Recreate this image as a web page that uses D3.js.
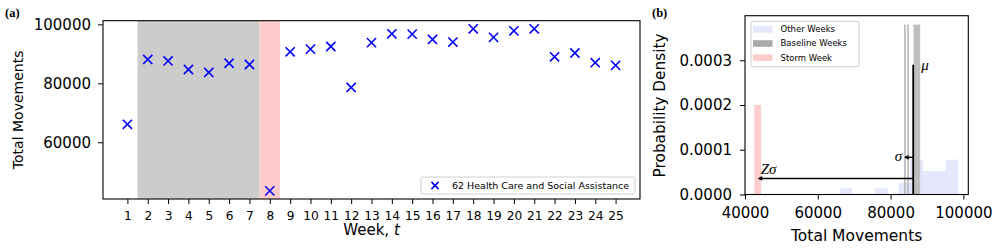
<!DOCTYPE html>
<html>
<head>
<meta charset="utf-8">
<script src="https://cdn.jsdelivr.net/npm/d3@7"></script>
<style>
  html, body { margin: 0; padding: 0; background: #fff; }
  svg { display: block; }
  text { font-family: "DejaVu Sans", sans-serif; fill: #000; }
</style>
</head>
<body>
<svg id="chart" width="996" height="251"></svg>
<script>
// ---------------- data ----------------
const weeks = [1,2,3,4,5,6,7,8,9,10,11,12,13,14,15,16,17,18,19,20,21,22,23,24,25];
const movements = [66100, 88100, 87600, 84700, 83700, 86800, 86400, 43500, 90700, 91600,
                   92500, 78600, 93800, 96800, 96700, 94900, 94000, 98500, 95600, 97800,
                   98500, 89000, 90300, 87000, 86100];
const baselineWeeks = [2,3,4,5,6,7];
const stormWeek = [8];
const seriesName = "62 Health Care and Social Assistance";

const aYTicks = [60000, 80000, 100000];
const bXTicks = [40000, 60000, 80000, 100000];
const bYTicks = [0, 0.0001, 0.0002, 0.0003];
const histBins = [10];
const stormBarHeight = [0.0002];
const stormBarWidth = [1840];
const sigmaValue = [2500];
const muLineTop = [0.00029];
const sigmaArrowY = [0.000083];
const zArrowY = [0.000036];
const legendB = ["Other Weeks", "Baseline Weeks", "Storm Week"];
const legendBColors = ["#e5e7fd", "#aaaaaa", "#ffcccc"];

// ---------------- setup ----------------
const svg = d3.select("#chart");
const A = {l: 103, r: 640, t: 20.7, b: 199};
const B = {l: 745, r: 968.3, t: 16.4, b: 194.5};

// ---------------- panel (a) ----------------
const xA = d3.scaleLinear().domain([-0.2, 26.2]).range([A.l, A.r]);
const yA = d3.scaleLinear().domain([40750, 101250]).range([A.b, A.t]);
const gA = svg.append("g");

gA.append("rect")
  .attr("x", xA(d3.min(baselineWeeks) - 0.5)).attr("y", A.t)
  .attr("width", xA(d3.max(baselineWeeks) + 0.5) - xA(d3.min(baselineWeeks) - 0.5))
  .attr("height", A.b - A.t).attr("fill", "#cccccc");
gA.append("rect")
  .attr("x", xA(stormWeek[0] - 0.5)).attr("y", A.t)
  .attr("width", xA(stormWeek[0] + 0.5) - xA(stormWeek[0] - 0.5))
  .attr("height", A.b - A.t).attr("fill", "#ffcccc");

const xMark = (sel, s) => sel.append("path")
  .attr("d", `M${-s},${-s}L${s},${s}M${-s},${s}L${s},${-s}`)
  .attr("stroke", "#0000ff").attr("stroke-width", 1.6).attr("fill", "none");

weeks.forEach((w, i) => {
  const g = gA.append("g").attr("transform", `translate(${xA(w)},${yA(movements[i])})`);
  xMark(g, 4.6);
});

// axes
const axAx = gA.append("g").attr("transform", `translate(0,${A.b})`)
  .call(d3.axisBottom(xA).tickValues(weeks).tickSize(5).tickPadding(7).tickFormat(d3.format("d")));
axAx.select(".domain").remove();
axAx.selectAll("text").style("font-size", "12.2px");
axAx.selectAll("line").attr("stroke-width", 1);

const axAy = gA.append("g").attr("transform", `translate(${A.l},0)`)
  .call(d3.axisLeft(yA).tickValues(aYTicks).tickSize(5).tickPadding(7).tickFormat(d3.format("d")));
axAy.select(".domain").remove();
axAy.selectAll("text").style("font-size", "15px");

gA.append("rect").attr("x", A.l).attr("y", A.t).attr("width", A.r - A.l).attr("height", A.b - A.t)
  .attr("fill", "none").attr("stroke", "#000").attr("stroke-width", 1.1);

gA.append("text").attr("transform", `translate(23,${(A.t + A.b) / 2}) rotate(-90)`)
  .attr("text-anchor", "middle").style("font-size", "14px").text("Total Movements");
const wl = gA.append("text").attr("x", (A.l + A.r) / 2).attr("y", 235)
  .attr("text-anchor", "middle").style("font-size", "15px");
wl.append("tspan").text("Week, ");
wl.append("tspan").style("font-style", "italic").text("t");

// legend (a)
gA.append("rect").attr("x", 421).attr("y", 177).attr("width", 214).attr("height", 17)
  .attr("rx", 2).attr("fill", "#fff").attr("fill-opacity", 0.8).attr("stroke", "#d0d0d0");
xMark(gA.append("g").attr("transform", "translate(435,185.5)"), 3.6);
gA.append("text").attr("x", 452).attr("y", 185.5).attr("dy", "0.35em")
  .style("font-size", "9.5px").text(seriesName);

svg.append("text").attr("x", 5).attr("y", 17)
  .style("font-family", "'Liberation Serif', serif").style("font-weight", "bold")
  .style("font-size", "12.5px").text("(a)");

// ---------------- panel (b) ----------------
const xB = d3.scaleLinear().domain([40000, 101350]).range([B.l, B.r]);
const yB = d3.scaleLinear().domain([0, 0.000398]).range([B.b, B.t]);
const gB = svg.append("g");

const otherVals = movements.filter((v, i) => !stormWeek.includes(weeks[i]));
const baseVals = movements.filter((v, i) => baselineWeeks.includes(weeks[i]));
const stormVal = movements[weeks.indexOf(stormWeek[0])];

function densityHist(vals, n) {
  const lo = d3.min(vals), hi = d3.max(vals), w = (hi - lo) / n;
  const th = d3.range(1, n).map(i => lo + i * w);
  const bins = d3.bin().domain([lo, hi]).thresholds(th)(vals);
  return bins.map(b => ({x0: b.x0, x1: b.x1, d: b.length / (vals.length * (b.x1 - b.x0))}));
}

const otherHist = densityHist(otherVals, histBins[0]);
gB.selectAll(".oh").data(otherHist.filter(b => b.d > 0)).join("rect")
  .attr("x", b => xB(b.x0)).attr("width", b => xB(b.x1) - xB(b.x0))
  .attr("y", b => yB(b.d)).attr("height", b => yB(0) - yB(b.d))
  .attr("fill", "#e5e7fd").attr("stroke", "#dcdff8").attr("stroke-width", 0.4);

const baseHist = densityHist(baseVals, histBins[0]);
gB.selectAll(".bh").data(baseHist.filter(b => b.d > 0)).join("rect")
  .attr("x", b => xB(b.x0) + 0.2).attr("width", b => xB(b.x1) - xB(b.x0) - 0.4)
  .attr("y", b => yB(b.d)).attr("height", b => yB(0) - yB(b.d))
  .attr("fill", "#cfcfcf").attr("stroke", "#a6a6a6").attr("stroke-width", 0.5);

gB.append("rect")
  .attr("x", xB(stormVal - stormBarWidth[0] / 2))
  .attr("width", xB(stormVal + stormBarWidth[0] / 2) - xB(stormVal - stormBarWidth[0] / 2))
  .attr("y", yB(stormBarHeight[0])).attr("height", yB(0) - yB(stormBarHeight[0]))
  .attr("fill", "#ffcccc");

const mu = d3.mean(baseVals);
gB.append("line").attr("x1", xB(mu)).attr("x2", xB(mu)).attr("y1", yB(0)).attr("y2", yB(muLineTop[0]))
  .attr("stroke", "#000").attr("stroke-width", 1.8);

function arrow(x1, x2, y) {
  gB.append("line").attr("x1", x1).attr("x2", x2 + 1.5).attr("y1", y).attr("y2", y)
    .attr("stroke", "#000").attr("stroke-width", 1.5);
  gB.append("path").attr("d", `M${x2},${y}L${x2 + 4.5},${y - 2.3}L${x2 + 4.5},${y + 2.3}Z`).attr("fill", "#000");
}
arrow(xB(mu), xB(mu - sigmaValue[0]), yB(sigmaArrowY[0]));
arrow(xB(mu), xB(stormVal), yB(zArrowY[0]));

const mathFont = "'Liberation Serif', 'DejaVu Serif', serif";
gB.append("text").attr("x", xB(mu) + 8).attr("y", 69.5)
  .style("font-family", mathFont).style("font-style", "italic").style("font-size", "15px").text("μ");
gB.append("text").attr("x", xB(mu - sigmaValue[0]) - 2).attr("y", yB(sigmaArrowY[0]) + 4)
  .attr("text-anchor", "end")
  .style("font-family", mathFont).style("font-style", "italic").style("font-size", "15px").text("σ");
gB.append("text").attr("x", xB(stormVal) + 3).attr("y", 174)
  .style("font-family", mathFont).style("font-style", "italic").style("font-size", "15px").text("Zσ");

const axBx = gB.append("g").attr("transform", `translate(0,${B.b})`)
  .call(d3.axisBottom(xB).tickValues(bXTicks).tickSize(5).tickPadding(8).tickFormat(d3.format("d")));
axBx.select(".domain").remove();
axBx.selectAll("text").style("font-size", "15px");

const axBy = gB.append("g").attr("transform", `translate(${B.l},0)`)
  .call(d3.axisLeft(yB).tickValues(bYTicks).tickSize(5).tickPadding(8).tickFormat(d3.format(".4f")));
axBy.select(".domain").remove();
axBy.selectAll("text").style("font-size", "15px");

gB.append("rect").attr("x", B.l).attr("y", B.t - 0.7).attr("width", B.r - B.l).attr("height", B.b - B.t + 0.7)
  .attr("fill", "none").attr("stroke", "#000").attr("stroke-width", 1.1);

gB.append("text").attr("transform", `translate(665,${(B.t + B.b) / 2}) rotate(-90)`)
  .attr("text-anchor", "middle").style("font-size", "15.3px").text("Probability Density");
gB.append("text").attr("x", (B.l + B.r) / 2).attr("y", 241)
  .attr("text-anchor", "middle").style("font-size", "15.5px").text("Total Movements");

// legend (b)
gB.append("rect").attr("x", 751).attr("y", 21.3).attr("width", 108).attr("height", 45.4)
  .attr("rx", 2).attr("fill", "#fff").attr("fill-opacity", 0.8).attr("stroke", "#d0d0d0");
legendB.forEach((name, i) => {
  const cy = 29.3 + i * 14.2;
  gB.append("rect").attr("x", 753).attr("y", cy - 3.3).attr("width", 19.5).attr("height", 6.6)
    .attr("fill", legendBColors[i]);
  gB.append("text").attr("x", 780.5).attr("y", cy).attr("dy", "0.35em")
    .style("font-size", "8.5px").text(name);
});

svg.append("text").attr("x", 652).attr("y", 17)
  .style("font-family", "'Liberation Serif', serif").style("font-weight", "bold")
  .style("font-size", "12.5px").text("(b)");
</script>
</body>
</html>
